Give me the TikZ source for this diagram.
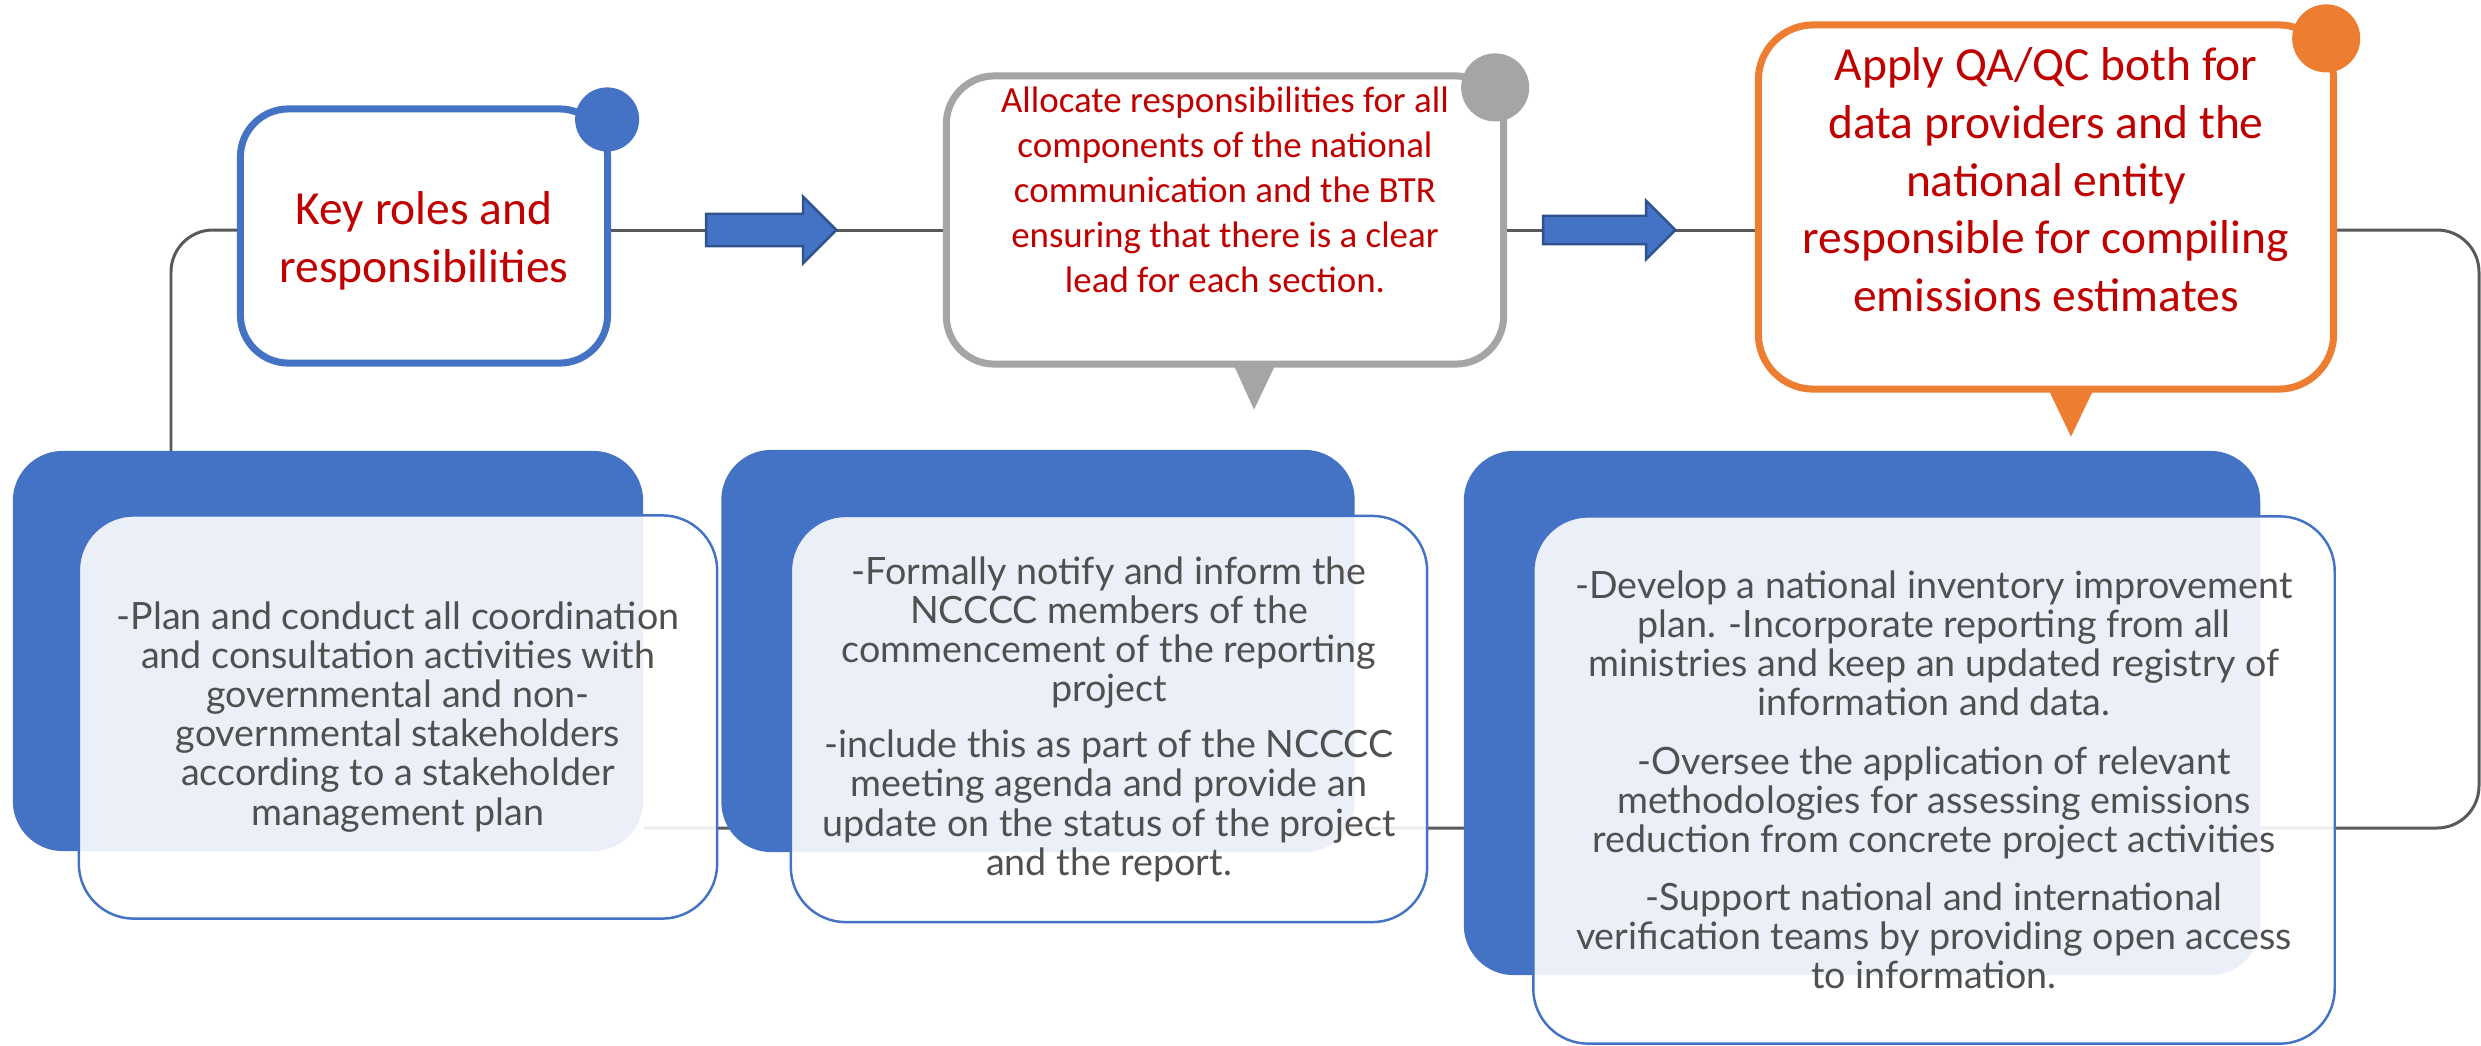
\documentclass[tikz,border=0pt]{standalone}
\usepackage{fontspec}
\setmainfont{Carlito}
\newfontfamily\latofont{Lato}
\usetikzlibrary{calc,positioning,shapes.arrows}

\definecolor{accblue}{HTML}{4472C4}
\definecolor{darkblue}{HTML}{2F528F}
\definecolor{accorange}{HTML}{ED7D31}
\definecolor{accgray}{HTML}{A5A5A5}
\definecolor{headred}{HTML}{C00000}
\definecolor{bodygray}{HTML}{505050}
\definecolor{linegray}{HTML}{595959}

\pgfdeclarelayer{background}
\pgfsetlayers{background,main}

\tikzstyle{head} = [rectangle, rounded corners=0.48cm, line width=2pt, fill=white, inner sep=0pt]
\tikzstyle{headtxt} = [text=headred, align=center, inner sep=0pt]
\tikzstyle{dot} = [circle, inner sep=0pt]
\tikzstyle{card} = [rectangle, rounded corners=0.5cm, fill=accblue, inner sep=0pt]
\tikzstyle{note} = [rectangle, rounded corners=0.55cm, draw=accblue, line width=0.7pt, fill=white, fill opacity=0.89, text opacity=1, text=bodygray, align=center, inner sep=0pt, font=\latofont\fontsize{10.7}{11.1}\selectfont]
\tikzstyle{conn} = [draw=linegray, line width=0.85pt, rounded corners=0.42cm]
\tikzstyle{flow} = [single arrow, fill=accblue, draw=darkblue, line width=0.7pt, inner xsep=0pt, inner ysep=0.15cm, minimum height=1.3cm, single arrow head extend=0.17cm, anchor=tip]

\begin{document}
\begin{tikzpicture}[x=0.01cm, y=-0.01cm]
\useasboundingbox (0,0) rectangle (2481,1045);

% bottom cards
\node (plan1) [card, minimum width=6.3cm, minimum height=4cm] at (328,651) {};
\node (plan2) [card, minimum width=6.33cm, minimum height=4.02cm] at (1038,651) {};
\node (plan3) [card, minimum width=7.96cm, minimum height=5.24cm] at (1862,713) {};
\node (note1) [note, minimum width=6.38cm, minimum height=4.03cm] at (398,717) {-Plan and conduct all coordination\\and consultation activities with\\governmental and non-\\governmental stakeholders\\according to a stakeholder\\management plan};
\node (note2) [note, minimum width=6.36cm, minimum height=4.06cm] at (1109,719) {-Formally notify and inform the\\NCCCC members of the\\commencement of the reporting\\project\\[5pt]-include this as part of the NCCCC\\meeting agenda and provide an\\update on the status of the project\\and the report.};
\node (note3) [note, minimum width=8.01cm, minimum height=5.27cm] at (1934,780) {-Develop a national inventory improvement\\plan. -Incorporate reporting from all\\ministries and keep an updated registry of\\information and data.\\[5.5pt]-Oversee the application of relevant\\methodologies for assessing emissions\\reduction from concrete project activities\\[5.5pt]-Support national and international\\verification teams by providing open access\\to information.};

% top row
\node (key) [head, draw=accblue, minimum width=3.67cm, minimum height=2.54cm] at (424,236) {};
\node (alloc) [head, draw=accgray, minimum width=5.57cm, minimum height=2.88cm] at (1225,220) {};
\node (qaqc) [head, draw=accorange, rounded corners=0.55cm, minimum width=5.75cm, minimum height=3.64cm] at (2046,207) {};

\fill[accgray] ($(alloc.south)+(9,-2)$) -- ++(41,0) -- ++(-21,44) -- cycle;
\fill[accorange] ($(qaqc.south)+(3,-2)$) -- ++(44,0) -- ++(-22,46) -- cycle;

\node (keydot) [dot, fill=accblue, minimum size=0.64cm] at ($(key.north east)+(-4,14)$) {};
\node (allocdot) [dot, fill=accgray, minimum size=0.68cm] at ($(alloc.north east)+(-12,15)$) {};
\node (qaqcdot) [dot, fill=accorange, minimum size=0.68cm] at ($(qaqc.north east)+(-11,17)$) {};

\node (keytxt) [headtxt, font=\fontsize{13.5}{16.4}\selectfont] at ($(key)+(0,5)$) {Key roles and\\responsibilities};
\node (alloctxt) [headtxt, font=\fontsize{10.5}{12.8}\selectfont] at ($(alloc)+(0,-30)$) {Allocate responsibilities for all\\components of the national\\communication and the BTR\\ensuring that there is a clear\\lead for each section.};
\node (qaqctxt) [headtxt, font=\fontsize{13.5}{16.4}\selectfont] at ($(qaqc)+(0,-27)$) {Apply QA/QC both for\\data providers and the\\national entity\\responsible for compiling\\emissions estimates};

\coordinate (row) at (0,230);
\coordinate (lstart) at (171,451);
\coordinate (rturn) at (2479,828);

\node (arr1) [flow] at (838,230) {};
\node (arr2) [flow, inner ysep=0.13cm, single arrow head extend=0.15cm, minimum height=1.32cm] at (1677,230) {};

\begin{pgfonlayer}{background}
\draw[conn] (lstart) |- (key.west |- row);
\draw[conn] (key.east |- row) -- (alloc.west |- row);
\draw[conn] (alloc.east |- row) -- (qaqc.west |- row);
\draw[conn] (qaqc.east |- row) -| (rturn) -- (plan1.east |- rturn);
\end{pgfonlayer}
\end{tikzpicture}
\end{document}
